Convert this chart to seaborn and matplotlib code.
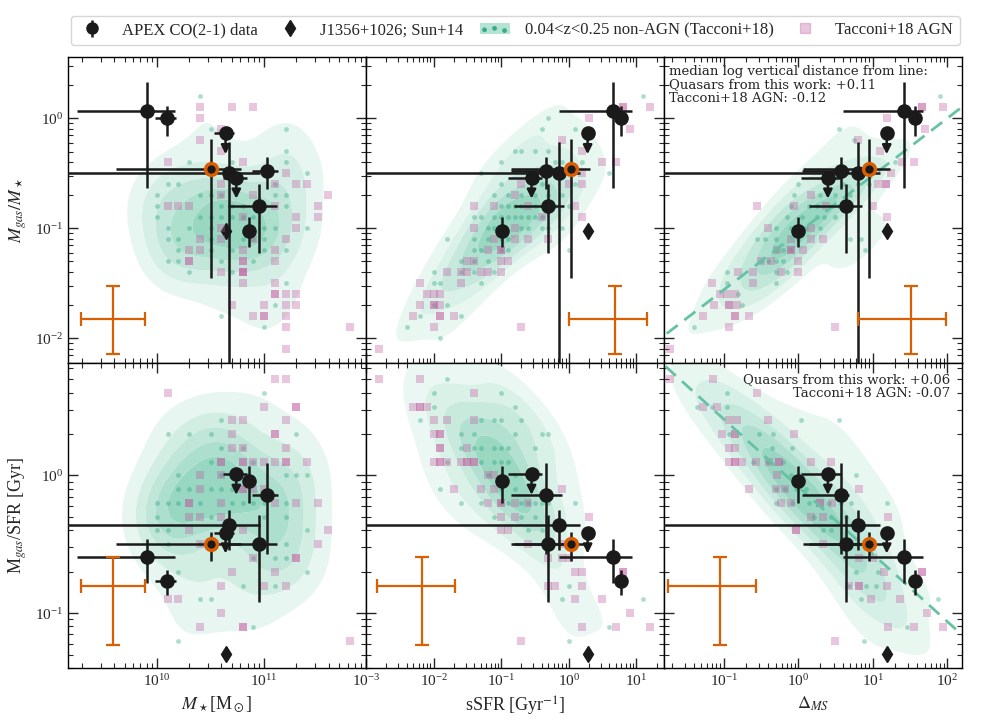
import numpy as np
import matplotlib
matplotlib.use("Agg")
import matplotlib.pyplot as plt
import seaborn as sns
from matplotlib.lines import Line2D
from matplotlib.patches import Patch
from matplotlib.colors import LinearSegmentedColormap

sns.set_theme(style="ticks")
plt.rcParams["font.family"] = ["Liberation Serif", "DejaVu Serif"]
plt.rcParams["mathtext.fontset"] = "stix"

GREEN = "#1b9e77"
PINK = "#c2549d"
ORANGE = "#d95f02"
BLACK = "#1a1a1a"
KDE_CMAP = LinearSegmentedColormap.from_list("kde", ["#f1faf6", "#8ed3bb"])

# ---------------- APEX quasars (log10 values) ----------------
logM = [9.91, 10.09, 10.64, 10.50, 10.67, 10.74, 11.03, 10.95, 10.86]
logM_lo = [9.25, 9.98, 10.53, 9.62, 8.0, 10.62, 10.89, 10.66, 10.83]
logM_hi = [10.17, 10.18, 10.72, 10.78, 10.96, 10.84, 11.13, 11.12, 10.89]

logS = [0.65, 0.77, 0.28, 0.04, -0.14, -0.55, -0.34, -0.30, -0.98]
logS_lo = [-0.15, 0.72, 0.23, -0.85, -4.0, -0.90, -0.85, -0.81, -1.01]
logS_hi = [0.93, 0.82, 0.33, 0.31, 0.16, -0.40, -0.10, -0.07, -0.95]

logD = [1.42, 1.57, 1.19, 0.95, 0.80, 0.40, 0.57, 0.65, 0.00]
logD_lo = [0.60, 1.52, 1.14, 0.06, -3.0, 0.04, 0.05, 0.14, -0.03]
logD_hi = [1.68, 1.62, 1.24, 1.23, 1.10, 0.58, 0.68, 0.86, 0.03]

logF = [0.066, 0.0, -0.136, -0.46, -0.50, -0.54, -0.48, -0.80, -1.02]
logF_lo = [-0.63, -0.16, np.nan, -1.45, -3.0, np.nan, -0.645, -1.22, -1.17]
logF_hi = [0.33, 0.11, np.nan, -0.19, -0.21, np.nan, -0.35, -0.60, -0.90]

logT = [-0.59, -0.77, -0.416, -0.50, -0.36, 0.01, -0.14, -0.50, -0.04]
logT_lo = [-0.78, -0.87, np.nan, -0.62, -0.54, np.nan, -0.57, -0.92, -0.20]
logT_hi = [-0.46, -0.69, np.nan, -0.41, -0.25, np.nan, 0.09, -0.29, 0.07]

upper_limit = [False, False, True, False, False, True, False, False, False]
highlight = [False, False, False, True, False, False, False, False, False]

# J1356+1026 (Sun+14)
j1356 = {"M": 10.64, "S": 0.28, "D": 1.19, "F": -1.02, "T": -1.30}

# typical error crosses: centre (log) and -/+ errors (dex)
cross_x = {"M": (9.59, 0.30, 0.30), "S": (0.69, 0.68, 0.47), "D": (1.52, 0.71, 0.47)}
cross_x_bottom = {"M": (9.59, 0.30, 0.30), "S": (-2.17, 0.67, 0.49), "D": (-1.05, 0.69, 0.48)}
cross_y = {"F": (-1.82, 0.32, 0.30), "T": (-0.80, 0.43, 0.21)}

# Tacconi+18 scaling relations with Delta_MS (intercept, slope)
rel_F = (-1.04, 0.52)
rel_T = (-0.08, -0.49)

# ---------------- Tacconi+18 samples: rows of (log y, [log x ...]) ----------------
nonagn_M_F = [
    (0.2, [10.4]), (-0.1, [10.5, 11.2]), (-0.3, [11.2]), (-0.4, [10.3, 10.7, 11.2]),
    (-0.5, [11.4]), (-0.6, [10.1, 10.2, 11.1]), (-0.7, [10.0, 10.4, 10.5, 10.6, 11.1, 11.2]),
    (-0.8, [10.0, 10.6, 10.7, 10.8, 11.2]), (-0.9, [10.0, 10.4, 10.5, 10.6, 10.7, 10.8, 10.9]),
    (-1.0, [10.1, 10.3, 10.5, 10.9, 11.0, 11.1, 11.4]), (-1.1, [10.1, 10.2, 10.5, 10.8, 10.9, 11.0]),
    (-1.2, [10.2, 10.5, 10.7, 11.0, 11.2]), (-1.3, [10.1, 10.2, 10.6, 10.9]), (-1.4, [10.3, 10.7]),
    (-1.5, [11.2]), (-1.7, [11.1]), (-1.8, [10.6]), (-1.9, [11.0]),
]
agn_M_F = [
    (0.1, [10.4, 10.7, 10.9]), (0.0, [10.4]), (-0.1, [10.6]), (-0.2, [10.4]), (-0.3, [10.6]),
    (-0.4, [10.1, 10.8]), (-0.5, [11.2]), (-0.6, [10.6, 11.1, 11.3, 11.4]), (-0.7, [10.6, 10.9, 11.6]),
    (-0.8, [10.1, 10.2, 10.3, 11.1, 11.5]), (-0.9, [10.8, 11.3, 11.5]), (-1.0, [10.6, 11.3]),
    (-1.1, [10.4, 10.6, 10.9, 11.2]), (-1.2, [10.3, 10.4, 10.8, 11.1]),
    (-1.3, [10.3, 10.3, 10.8, 10.8, 11.1]), (-1.4, [10.6, 10.8, 10.8, 10.8]), (-1.5, [10.8, 11.1]),
    (-1.6, [11.1, 11.1, 11.2, 11.3]), (-1.7, [10.7, 11.0, 11.2, 11.3]), (-1.8, [10.9, 11.0, 11.0, 11.2]),
    (-1.9, [11.2, 11.8]), (-2.1, [11.2]),
]
nonagn_S_F = [
    (0.2, [1.1]), (0.0, [-0.3]), (-0.1, [-0.4, 0.1]), (-0.3, [-0.8, -0.7, -0.5, -0.3]),
    (-0.4, [-1.0, -0.2, -0.1, 0.2]), (-0.5, [-1.3, 0.6]), (-0.6, [-1.0, -0.4, 0.1]),
    (-0.7, [-1.1, -0.9, -0.7, -0.5, -0.3, -0.1]), (-0.8, [-1.0, -0.9, -0.8, -0.7, -0.5, -0.4, -0.2, 0.0]),
    (-0.9, [-1.4, -1.3, -1.1, -1.0, -0.9, -0.8, -0.7, -0.6, -0.5, -0.4]),
    (-1.0, [-1.2, -1.1, -1.0, -0.7, -0.6, -0.4, -0.3, -0.1]), (-1.1, [-1.8, -1.4, -1.2, -1.0, -0.9]),
    (-1.2, [-1.4, -1.3, -1.0, -0.9, 0.0]), (-1.3, [-1.6, -1.4, -1.2]), (-1.4, [-2.0, -1.6, -1.4, -1.1]),
    (-1.5, [-2.0, -1.9, -1.3]), (-1.7, [-2.0, -1.8]), (-1.8, [-2.2, -1.6]), (-1.9, [-2.4]), (-2.0, [-1.9]),
]
agn_S_F = [
    (0.1, [0.8, 0.8, 1.2]), (0.0, [0.3]), (-0.1, [0.9]), (-0.2, [-0.1]), (-0.3, [0.2]), (-0.4, [0.5, 0.7]),
    (-0.5, [0.2]), (-0.6, [-0.7, 0.0, 0.2]), (-0.7, [-0.8]), (-0.8, [-1.4, -1.1, -0.6, 0.1]),
    (-0.9, [-0.4, 0.2]), (-1.0, [-1.4, -0.8]), (-1.1, [-1.1, -0.8, -0.6, -0.3]), (-1.2, [-1.2, -1.0, -1.0]),
    (-1.3, [-1.5, -1.4, -1.0, -0.9]), (-1.4, [-1.8, -1.6, -1.5, -1.3, -1.2, -1.0]), (-1.5, [-2.2, -1.6]),
    (-1.6, [-2.1, -2.0, -1.9]), (-1.7, [-2.2, -2.0, -2.0, -1.9]), (-1.8, [-2.3, -1.9, -1.9, -1.7]),
    (-1.9, [-2.0, -0.7]), (-2.1, [-2.8]),
]
nonagn_D_F = [
    (0.2, [1.9]), (-0.1, [0.55]), (-0.2, [0.75]), (-0.4, [1.3]), (-0.5, [0.65]),
    (-0.6, [0.0, 0.6, 0.8, 0.95]), (-0.7, [-0.05, 0.3, 0.5, 0.7]),
    (-0.8, [-0.1, 0.15, 0.25, 0.45, 0.55]), (-0.9, [-0.15, 0.05, 0.25, 0.35, 0.5]),
    (-1.0, [-0.3, -0.1, 0.1, 0.3]), (-1.1, [-0.55, -0.45, -0.3, 0.0, 0.7, 0.85]),
    (-1.2, [-0.3, -0.2, -0.1, 0.9]), (-1.3, [-0.5, -0.4, -0.3, -0.2]), (-1.4, [-0.95, -0.3, -0.15]),
    (-1.5, [-0.95, -0.3]), (-1.6, [-0.8]), (-1.7, [-0.75]), (-1.9, [-1.4]),
]
agn_D_F = [
    (0.1, [1.67, 1.67, 1.95]), (0.0, [1.2]), (-0.1, [1.7]), (-0.2, [0.8]), (-0.3, [1.1]), (-0.4, [1.4, 1.55]),
    (-0.5, [1.25]), (-0.6, [1.07, 1.18, 1.18]), (-0.7, [0.17]), (-0.8, [-0.55, -0.05, 0.38, 1.0]),
    (-0.9, [1.2]), (-1.0, [-0.4, 0.17]), (-1.1, [-0.1, 0.17, 0.33]), (-1.2, [-0.28, -0.1, -0.1, 0.06]),
    (-1.3, [-0.5, -0.37, 0.0]), (-1.4, [-0.8, -0.6, -0.23, 0.0]), (-1.5, [-1.15, -0.6]),
    (-1.6, [-1.05, -0.95, -0.85]), (-1.7, [-1.13, -0.93, -0.93, -0.82]), (-1.8, [-1.27, -0.85, -0.85, -0.66]),
    (-1.9, [-0.93, 0.5]), (-2.1, [-1.72]),
]
nonagn_M_T = [
    (0.6, [11.0]), (0.4, [10.6]), (0.3, [10.1, 10.3, 10.5, 11.3]), (0.2, [10.6, 10.8]), (0.1, [10.5, 10.9]),
    (0.0, [10.2, 10.6, 11.2, 11.3, 11.4]), (-0.1, [10.2, 10.3, 10.5, 10.6, 10.7]),
    (-0.2, [10.0, 10.1, 10.2, 10.4, 10.7, 10.8, 10.9, 11.0, 11.2]), (-0.3, [10.0, 10.5, 11.0, 11.2]),
    (-0.4, [10.0, 10.1, 11.4]), (-0.5, [10.1, 10.4, 11.2]), (-0.6, [10.9, 11.1, 11.2]), (-0.7, [10.2, 11.4]),
    (-0.8, [10.8, 11.1]), (-0.9, [10.4, 10.5]), (-1.1, [10.9]), (-1.2, [10.2]),
]
agn_M_T = [
    (0.7, [11.1, 11.2]), (0.6, [10.1]), (0.5, [11.0, 11.3, 11.3]), (0.4, [10.7, 10.8, 11.2]),
    (0.3, [10.7, 11.1, 11.1]), (0.2, [10.7, 10.8, 11.2]),
    (0.1, [10.6, 10.6, 10.8, 10.8, 10.9, 11.0, 11.1, 11.2, 11.2, 11.4]), (0.0, [10.4, 10.6]),
    (-0.1, [10.4, 10.8, 10.8, 10.9, 11.0]), (-0.2, [10.3, 10.3, 10.6, 11.1, 11.3, 11.5]),
    (-0.3, [10.3, 10.4, 10.6]), (-0.4, [10.3, 10.8, 11.6]), (-0.5, [10.4, 11.5]), (-0.6, [10.9, 11.3, 11.3]),
    (-0.7, [10.7, 11.1]), (-0.8, [10.6, 11.0, 11.2]), (-0.9, [10.1, 10.2]), (-1.0, [10.6]),
    (-1.1, [10.4, 10.8, 10.8]), (-1.2, [11.8]),
]
nonagn_S_T = [
    (0.7, [-1.8]), (0.6, [-2.0, -1.0]), (0.5, [-2.0, -0.8]), (0.4, [-2.2, -1.3, -1.1, -1.0, -0.7]),
    (0.3, [-1.6, -1.4, -0.8, -0.4, -0.3]), (0.2, [-1.6, -1.4, -1.3, -1.1, -1.0, -0.9, -0.5]),
    (0.1, [-1.8, -1.3, -1.1, -1.0, -0.9]), (0.0, [-1.2, -1.0, -0.8]), (-0.1, [-1.9, -1.0, -0.8]),
    (-0.2, [-1.6, -1.3, -1.0, -0.9, -0.7, -0.6, -0.5, -0.4, -0.3, 0.1]), (-0.3, [-1.1, -0.7, -0.5]),
    (-0.4, [-0.6, -0.4]), (-0.8, [0.0]), (-0.9, [-0.1, 1.1]), (-1.1, [0.6]), (-1.2, [0.0]),
]
agn_S_T = [
    (0.7, [-2.8, -2.2]), (0.6, [-1.4]), (0.5, [-2.3, -2.2, -2.2, -2.1]), (0.4, [-2.0, -1.8, -1.4]),
    (0.3, [-2.0, -1.9, -1.9]), (0.2, [-1.9, -1.9, -1.5]),
    (0.1, [-2.0, -1.9, -1.9, -1.8, -1.6, -1.5, -1.5, -1.4, -1.4]), (0.0, [-1.2, -1.1]),
    (-0.1, [-1.7, -1.3, -1.1, -0.1]), (-0.2, [-1.2, -1.0, -1.0, -0.8, -0.6]), (-0.3, [-1.0, -0.8, 0.3]),
    (-0.4, [-1.0, -0.9]), (-0.5, [-0.6, -0.3, -0.1]), (-0.6, [-0.3, -0.1, 0.0]), (-0.7, [0.1, 0.2, 0.8, 0.8]),
    (-0.8, [-0.3, -0.2, 0.2]), (-0.9, [0.1, 0.5]), (-1.0, [0.9]), (-1.1, [0.2, 0.7, 1.2]), (-1.2, [-0.7]),
]
nonagn_D_T = [
    (0.6, [-0.95]), (0.5, [-1.36, -1.16, -0.95]), (0.4, [0.04, 0.55]), (0.3, [-0.93, -0.53, -0.33]),
    (0.2, [-0.35, -0.08]), (0.1, [-0.6, -0.4, -0.2]), (0.0, [-0.1, 0.78]),
    (-0.1, [-0.3, -0.17, -0.03, 0.1]), (-0.2, [-0.3, -0.08, 0.15, 0.42, 0.58, 0.71, 1.19]),
    (-0.3, [0.22, 0.44, 0.64]), (-0.4, [0.33, 0.44]), (-0.5, [0.78, 1.0]), (-0.7, [0.78, 1.07]),
    (-0.8, [0.69, 0.91, 1.04]), (-0.9, [0.85, 1.88]), (-1.1, [1.46]), (-1.2, [0.89]),
]
agn_D_T = [
    (0.7, [-1.72, -1.14]), (0.6, [-0.55]), (0.5, [-1.27, -1.09]), (0.4, [-0.93, -0.82, -0.41]),
    (0.3, [-1.02, -0.84, -0.84, -0.05]), (0.2, [-0.93, -0.84]),
    (0.1, [-0.93, -0.84, -0.84, -0.75, -0.57, -0.39, -0.26, -0.26, 0.17, 0.44]), (0.0, [-0.28]),
    (-0.1, [-0.66, -0.3, -0.17, 0.82]), (-0.2, [-0.23, -0.1, 0.3, 0.3, 0.46]), (-0.3, [0.17, 0.33, 1.21]),
    (-0.4, [-0.03, -0.03]), (-0.5, [0.33, 0.62]), (-0.6, [0.82, 1.0]), (-0.7, [1.16, 1.66, 1.66]),
    (-0.8, [0.69, 0.82, 0.82, 1.19]), (-0.9, [0.98, 1.37]), (-1.0, [1.73]), (-1.1, [1.21, 1.55, 1.95]),
    (-1.2, [0.5]),
]

x_labels = [r"$M_\star$[M$_\odot$]", r"sSFR [Gyr$^{-1}$]", r"$\Delta_{MS}$"]
y_labels = [r"$M_{gas}/M_\star$", r"M$_{gas}$/SFR [Gyr]"]
xlims = [(10**9.17, 10**11.95), (1e-3, 10**1.41), (10**-1.8, 10**2.2)]
ylims = [(10**-2.22, 10**0.56), (10**-1.4, 10**0.82)]


def expand(rows):
    xs, ys = [], []
    for yv, xl in rows:
        for xv in xl:
            xs.append(xv)
            ys.append(yv)
    return 10 ** np.array(xs), 10 ** np.array(ys)


qx = {"M": (logM, logM_lo, logM_hi), "S": (logS, logS_lo, logS_hi), "D": (logD, logD_lo, logD_hi)}
qy = {"F": (logF, logF_lo, logF_hi), "T": (logT, logT_lo, logT_hi)}
samples = {
    ("M", "F"): (nonagn_M_F, agn_M_F), ("S", "F"): (nonagn_S_F, agn_S_F), ("D", "F"): (nonagn_D_F, agn_D_F),
    ("M", "T"): (nonagn_M_T, agn_M_T), ("S", "T"): (nonagn_S_T, agn_S_T), ("D", "T"): (nonagn_D_T, agn_D_T),
}

fig, axes = plt.subplots(2, 3, figsize=(9.81, 7.2), dpi=100, sharex="col", sharey="row")
fig.subplots_adjust(left=0.0693, right=0.9806, top=0.921, bottom=0.072, wspace=0, hspace=0)

for r, ykey in enumerate(["F", "T"]):
    for c, xkey in enumerate(["M", "S", "D"]):
        ax = axes[r, c]
        ax.set_xscale("log")
        ax.set_yscale("log")
        non_rows, agn_rows = samples[(xkey, ykey)]
        gx, gy = expand(non_rows)
        px, py = expand(agn_rows)
        sns.kdeplot(x=gx, y=gy, ax=ax, fill=True, levels=6, thresh=0.13, cmap=KDE_CMAP,
                    log_scale=(True, True), bw_adjust=1.1, zorder=1, antialiased=True)
        sns.scatterplot(x=gx, y=gy, ax=ax, s=12, color=GREEN, alpha=0.35, linewidth=0, zorder=2)
        sns.scatterplot(x=px, y=py, ax=ax, marker="s", s=40, color=PINK, alpha=0.33, linewidth=0, zorder=3)

        # relation line
        if xkey == "D":
            a, b = rel_F if ykey == "F" else rel_T
            lx = np.array([-2.0, 2.4])
            ax.plot(10 ** lx, 10 ** (a + b * lx), ls=(0, (5, 3)), color="#66c2a5", lw=2, zorder=4)

        # J1356
        ax.plot(10 ** j1356[xkey], 10 ** j1356[ykey], marker="d", ms=8, color=BLACK, ls="none", zorder=2.5)

        xv, xlo, xhi = qx[xkey]
        yv, ylo, yhi = qy[ykey]
        for i in range(len(xv)):
            x0 = 10 ** xv[i]
            y0 = 10 ** yv[i]
            xe = [[x0 - 10 ** xlo[i]], [10 ** xhi[i] - x0]]
            if upper_limit[i]:
                ye = None
            else:
                ye = [[y0 - 10 ** ylo[i]], [10 ** yhi[i] - y0]]
            mec = ORANGE if highlight[i] else BLACK
            ax.errorbar([x0], [y0], xerr=xe, yerr=ye, fmt="o", ms=9.5 if not highlight[i] else 8.5,
                        color=BLACK, mfc=BLACK, mec=mec, mew=2.5 if highlight[i] else 1,
                        elinewidth=1.8, capsize=0, zorder=6 if highlight[i] else 5)
            if upper_limit[i]:
                ax.annotate("", xy=(x0, y0), xytext=(0, -15), textcoords="offset points",
                            arrowprops=dict(arrowstyle="<|-", color=BLACK, lw=1.8, mutation_scale=13,
                                            shrinkA=0, shrinkB=0), zorder=5)

        # typical error cross
        cx = (cross_x if r == 0 else cross_x_bottom)[xkey]
        cy = cross_y[ykey]
        xc, yc = 10 ** cx[0], 10 ** cy[0]
        ax.errorbar([xc], [yc],
                    xerr=[[xc - 10 ** (cx[0] - cx[1])], [10 ** (cx[0] + cx[2]) - xc]],
                    yerr=[[yc - 10 ** (cy[0] - cy[1])], [10 ** (cy[0] + cy[2]) - yc]],
                    fmt="none", ecolor=ORANGE, elinewidth=1.6, capsize=5, capthick=1.6, zorder=5)

        ax.set_xlim(*xlims[c])
        ax.set_ylim(*ylims[r])
        ax.tick_params(which="both", direction="in", top=True, right=True, labelsize=11)
        ax.tick_params(which="major", length=7, width=1)
        ax.tick_params(which="minor", length=3.5, width=0.8)
        for s in ax.spines.values():
            s.set_linewidth(1.0)
            s.set_color("black")
        ax.set_xlabel(x_labels[c] if r == 1 else "", fontsize=13)
        ax.set_ylabel(y_labels[r] if c == 0 else "", fontsize=13)

axes[0, 2].text(0.017, 0.975, "median log vertical distance from line:\nQuasars from this work: +0.11\nTacconi+18 AGN: -0.12",
                transform=axes[0, 2].transAxes, ha="left", va="top", fontsize=9.5,
                family="DejaVu Serif", linespacing=1.05, zorder=10)
axes[1, 2].text(0.96, 0.965, "Quasars from this work: +0.06\nTacconi+18 AGN: -0.07",
                transform=axes[1, 2].transAxes, ha="right", va="top", fontsize=9.5,
                family="DejaVu Serif", linespacing=1.05, zorder=10)

# legend
h_apex = axes[0, 0].errorbar([np.nan], [np.nan], yerr=[1], fmt="o", ms=8, color=BLACK, elinewidth=1.8)
h_j = Line2D([], [], marker="d", ms=8, color=BLACK, ls="none")
h_sc = axes[0, 0].scatter([np.nan] * 3, [np.nan] * 3, s=12, color=GREEN, alpha=0.8, linewidth=0)
h_non = (Patch(facecolor="#b5e3d3", edgecolor="none"), h_sc)
h_agn = Line2D([], [], marker="s", ms=7, color=PINK, alpha=0.33, ls="none")
fig.legend([h_apex, h_j, h_non, h_agn],
           ["APEX CO(2-1) data", "J1356+1026; Sun+14", "0.04<z<0.25 non-AGN (Tacconi+18)", "Tacconi+18 AGN"],
           loc="upper center", bbox_to_anchor=(0.525, 0.99), ncol=4, fontsize=12, frameon=True,
           scatterpoints=3, handlelength=1.8, columnspacing=1.0, handletextpad=0.9, borderpad=0.4,
           fancybox=True, edgecolor="#cccccc")

fig.savefig("out.png", dpi=100)
